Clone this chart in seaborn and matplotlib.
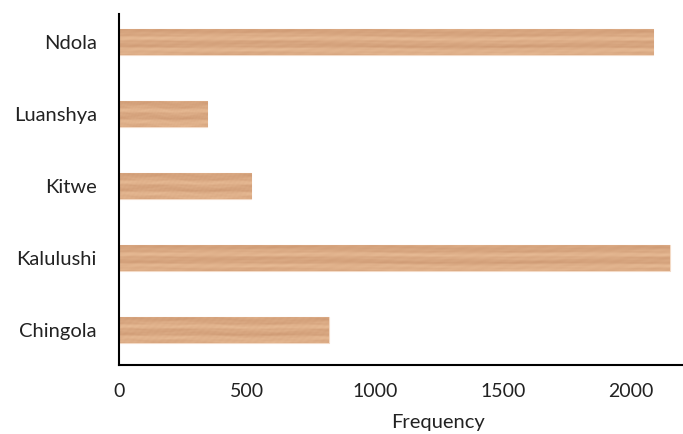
import numpy as np
import pandas as pd
import matplotlib
matplotlib.use("Agg")
import matplotlib.pyplot as plt
import seaborn as sns

# Data
cities = ["Ndola", "Luanshya", "Kitwe", "Kalulushi", "Chingola"]
frequency = [2087, 345, 517, 2152, 819]
x_ticks = [0, 500, 1000, 1500, 2000]

df = pd.DataFrame({"City": cities, "Frequency": frequency})

sns.set_style("white")
plt.rcParams["font.family"] = ["Lato", "DejaVu Sans"]

fig = plt.figure(figsize=(6.83, 4.34), dpi=100)
ax = fig.add_axes([0.1742, 0.159, 0.8258, 0.809])

base = "#dbab86"
sns.barplot(data=df, x="Frequency", y="City", orient="h", color=base,
            width=0.35, saturation=1, ax=ax)

# Wood-grain fill: soft horizontal streaks with slowly wandering phase
H, W = 40, 900
yy, xx = np.mgrid[0:H, 0:W].astype(float)
g = (0.40 * np.sin(2 * np.pi * (yy / H * 2.1 + 0.08 * np.sin(xx / 130.0)))
     + 0.30 * np.sin(2 * np.pi * (yy / H * 4.9 + 0.10 * np.sin(xx / 57.0 + 1.3)))
     * (0.6 + 0.4 * np.sin(xx / 33.0))
     + 0.22 * np.sin(2 * np.pi * (yy / H * 9.3 + 0.12 * np.sin(xx / 29.0 + 0.7)))
     * (0.5 + 0.5 * np.sin(xx / 17.0 + 2.0))
     + 0.08 * np.sin(xx / 5.0 + yy * 0.6))
g = (g - g.min()) / (g.max() - g.min())
light = np.array([232, 188, 150]) / 255.0
dark = np.array([205, 152, 114]) / 255.0
tex = light[None, None, :] * (1 - g[..., None]) + dark[None, None, :] * g[..., None]

for p in ax.patches:
    x0, y0 = p.get_x(), p.get_y()
    w, h = p.get_width(), p.get_height()
    p.set_edgecolor("#f3dac6")
    p.set_linewidth(0.8)
    im = ax.imshow(tex, extent=(x0, x0 + w, y0 + h, y0), aspect="auto",
                   interpolation="bicubic", zorder=p.get_zorder() + 0.1)
    im.set_clip_path(p)

ax.set_xlim(0, 2203)
ax.set_ylim(4.486, -0.389)
ax.set_aspect("auto")

ax.set_xticks(x_ticks)
ax.set_xticklabels([str(t) for t in x_ticks])
ax.tick_params(axis="x", length=0, pad=13, labelsize=14, labelcolor="#222222")
ax.tick_params(axis="y", length=0, pad=16, labelsize=14.5, labelcolor="#222222")
ax.set_ylabel("")
ax.set_xlabel("Frequency", fontsize=14.5, color="#222222")
ax.xaxis.label.set_verticalalignment("baseline")
ax.xaxis.set_label_coords(0.566, -0.180)

for s in ["top", "right"]:
    ax.spines[s].set_visible(False)
for s in ["left", "bottom"]:
    ax.spines[s].set_color("black")
    ax.spines[s].set_linewidth(1.5)

fig.savefig("out.png", dpi=100)
